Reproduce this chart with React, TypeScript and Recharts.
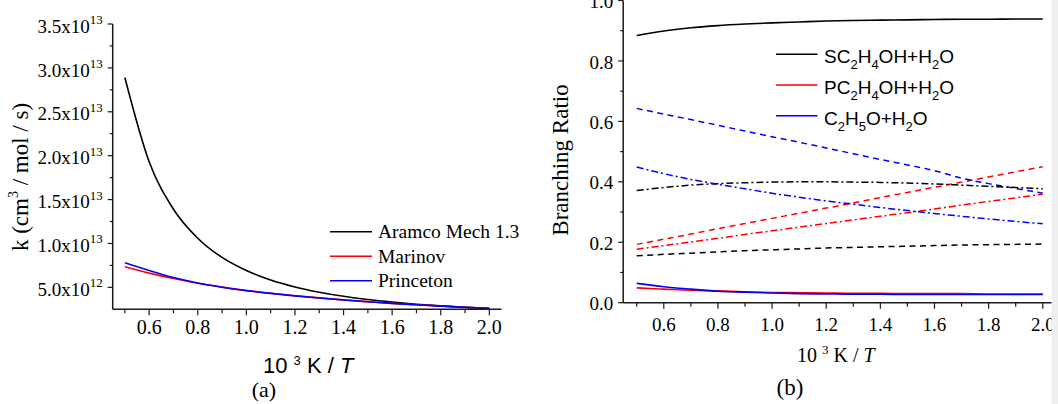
import React from 'react';
import { LineChart, Line, XAxis, YAxis } from 'recharts';

// 10^3 K / T
const invT = [0.5, 0.6, 0.7, 0.8, 0.9, 1.0, 1.1, 1.2, 1.3, 1.4, 1.5, 1.6, 1.7, 1.8, 1.9, 2.0];

// panel (a): k (cm3 / mol / s)
const aramco = [28.9e12, 19.3e12, 13.9e12, 10.6e12, 8.41e12, 6.92e12, 5.84e12, 5.05e12, 4.45e12, 3.98e12, 3.61e12, 3.32e12, 3.08e12, 2.89e12, 2.73e12, 2.6e12];
const marinov = [7.35e12, 6.62e12, 6.0e12, 5.47e12, 5.03e12, 4.65e12, 4.33e12, 4.05e12, 3.8e12, 3.57e12, 3.37e12, 3.18e12, 3.02e12, 2.87e12, 2.73e12, 2.6e12];
const princeton = [7.8e12, 6.92e12, 6.12e12, 5.5e12, 5.02e12, 4.63e12, 4.31e12, 4.03e12, 3.78e12, 3.56e12, 3.36e12, 3.17e12, 3.01e12, 2.86e12, 2.72e12, 2.59e12];

// panel (b): branching ratios (solid / dashed / dash-dot)
const scSolid = [0.884, 0.899, 0.910, 0.917, 0.922, 0.926, 0.929, 0.932, 0.934, 0.935, 0.936, 0.937, 0.938, 0.938, 0.939, 0.939];
const pcSolid = [0.049, 0.045, 0.041, 0.039, 0.036, 0.034, 0.033, 0.032, 0.031, 0.031, 0.030, 0.030, 0.030, 0.029, 0.029, 0.029];
const c2h5oSolid = [0.064, 0.053, 0.045, 0.038, 0.035, 0.032, 0.030, 0.029, 0.028, 0.028, 0.027, 0.027, 0.027, 0.027, 0.027, 0.027];
const scDash = [0.155, 0.160, 0.164, 0.168, 0.172, 0.175, 0.178, 0.181, 0.183, 0.185, 0.187, 0.189, 0.191, 0.192, 0.193, 0.194];
const pcDash = [0.193, 0.210, 0.227, 0.245, 0.262, 0.279, 0.296, 0.313, 0.330, 0.348, 0.365, 0.382, 0.399, 0.416, 0.433, 0.450];
const c2h5oDash = [0.643, 0.624, 0.606, 0.587, 0.568, 0.549, 0.531, 0.512, 0.493, 0.474, 0.456, 0.437, 0.412, 0.394, 0.378, 0.362];
const scDashDot = [0.371, 0.381, 0.389, 0.394, 0.397, 0.399, 0.400, 0.400, 0.399, 0.398, 0.396, 0.393, 0.389, 0.385, 0.381, 0.377];
const pcDashDot = [0.177, 0.189, 0.201, 0.213, 0.226, 0.238, 0.250, 0.262, 0.274, 0.286, 0.298, 0.310, 0.323, 0.335, 0.347, 0.359];
const c2h5oDashDot = [0.449, 0.427, 0.408, 0.392, 0.377, 0.362, 0.349, 0.337, 0.326, 0.315, 0.305, 0.295, 0.286, 0.277, 0.269, 0.261];

// ticks
const xMajor = [0.6, 0.8, 1.0, 1.2, 1.4, 1.6, 1.8, 2.0];
const xAll = [0.5, 0.6, 0.7, 0.8, 0.9, 1.0, 1.1, 1.2, 1.3, 1.4, 1.5, 1.6, 1.7, 1.8, 1.9, 2.0];
const kMajor = [5e12, 1e13, 1.5e13, 2e13, 2.5e13, 3e13, 3.5e13];
const kAll = [5e12, 7.5e12, 1e13, 1.25e13, 1.5e13, 1.75e13, 2e13, 2.25e13, 2.5e13, 2.75e13, 3e13, 3.25e13, 3.5e13];
const brMajor = [0, 0.2, 0.4, 0.6, 0.8, 1.0];
const brAll = [0, 0.1, 0.2, 0.3, 0.4, 0.5, 0.6, 0.7, 0.8, 0.9, 1.0];

const legendA = ['Aramco Mech 1.3', 'Marinov', 'Princeton'];
const colors = ['#000000', '#ff0000', '#0000ff'];

const serif = '"Liberation Serif", "Times New Roman", serif';
const sans = '"Liberation Sans", Arial, sans-serif';
const axisColor = '#1a1a1a';

const rowsA = invT.map((x, i) => ({ x, aramco: aramco[i], marinov: marinov[i], princeton: princeton[i] }));
const rowsB = invT.map((x, i) => ({
  x,
  scSolid: scSolid[i], pcSolid: pcSolid[i], c2h5oSolid: c2h5oSolid[i],
  scDash: scDash[i], pcDash: pcDash[i], c2h5oDash: c2h5oDash[i],
  scDashDot: scDashDot[i], pcDashDot: pcDashDot[i], c2h5oDashDot: c2h5oDashDot[i],
}));

const isIn = (v: number, list: number[]) => list.some((m) => Math.abs(m - v) < 1e-6 * Math.max(1, Math.abs(m)));

const makeXTick = (fontSize: number, labelDy: number) => (props: any) => {
  const { x, y, payload } = props;
  const major = isIn(payload.value, xMajor);
  return (
    <g>
      <line x1={x} x2={x} y1={y} y2={y + (major ? 6 : 4)} stroke={axisColor} strokeWidth={1.2} />
      {major && (
        <text x={x} y={y + labelDy} textAnchor="middle" fontFamily={serif} fontSize={fontSize} fill="#000">
          {payload.value.toFixed(1)}
        </text>
      )}
    </g>
  );
};

const YTickA = (props: any) => {
  const { x, y, payload } = props;
  const v = payload.value;
  const major = isIn(v, kMajor);
  const exp = v >= 1e13 ? 13 : 12;
  const mant = (v / Math.pow(10, exp)).toFixed(1);
  return (
    <g>
      <line x1={x - (major ? 5 : 3)} x2={x} y1={y} y2={y} stroke={axisColor} strokeWidth={1.2} />
      {major && (
        <text x={x - 10} y={y + 8.7} textAnchor="end" fontFamily={serif} fontSize={19} fill="#000">
          {mant}x10<tspan fontSize={13} dy={-8.7}>{exp}</tspan>
        </text>
      )}
    </g>
  );
};

const YTickB = (props: any) => {
  const { x, y, payload } = props;
  const major = isIn(payload.value, brMajor);
  return (
    <g>
      <line x1={x - (major ? 5 : 3)} x2={x} y1={y} y2={y} stroke={axisColor} strokeWidth={1.2} />
      {major && (
        <text x={x - 10} y={y + 7.6} textAnchor="end" fontFamily={serif} fontSize={19} fill="#000">
          {payload.value.toFixed(1)}
        </text>
      )}
    </g>
  );
};

const dash = '6 4.5';
const dashDot = '7 3 2 3';

export default function App() {
  return (
    <div style={{ position: 'absolute', left: 0, top: 0, width: 1058, height: 404, background: '#fff', overflow: 'hidden' }}>
      <div style={{ position: 'absolute', left: 0, top: 0 }}>
        <LineChart width={520} height={404} data={rowsA} margin={{ top: 24, right: 18.5, left: 52.7, bottom: 64.7 }}>
          <XAxis
            dataKey="x"
            type="number"
            domain={[0.45, 2.05]}
            ticks={xAll}
            interval={0}
            height={30}
            tickLine={false}
            tickSize={0}
            tickMargin={0}
            axisLine={{ stroke: axisColor, strokeWidth: 1.5 }}
            tick={makeXTick(20, 24.7)}
          />
          <YAxis
            type="number"
            domain={[2.5e12, 3.5e13]}
            allowDataOverflow
            ticks={kAll}
            interval={0}
            width={60}
            tickLine={false}
            tickSize={0}
            tickMargin={0}
            axisLine={{ stroke: axisColor, strokeWidth: 1.5 }}
            tick={YTickA}
          />
          <Line type="monotone" dataKey="aramco" stroke={colors[0]} strokeWidth={1.6} dot={false} isAnimationActive={false} />
          <Line type="monotone" dataKey="marinov" stroke={colors[1]} strokeWidth={1.6} dot={false} isAnimationActive={false} />
          <Line type="monotone" dataKey="princeton" stroke={colors[2]} strokeWidth={1.6} dot={false} isAnimationActive={false} />
        </LineChart>
      </div>

      <div style={{ position: 'absolute', left: 520, top: 0 }}>
        <LineChart width={538} height={404} data={rowsB} margin={{ top: 0.5, right: 1.7, left: 43.2, bottom: 71.3 }}>
          <XAxis
            dataKey="x"
            type="number"
            domain={[0.45, 2.05]}
            ticks={xAll}
            interval={0}
            height={30}
            tickLine={false}
            tickSize={0}
            tickMargin={0}
            axisLine={{ stroke: axisColor, strokeWidth: 1.5 }}
            tick={makeXTick(19, 28.3)}
          />
          <YAxis
            type="number"
            domain={[0, 1]}
            ticks={brAll}
            interval={0}
            width={60}
            tickLine={false}
            tickSize={0}
            tickMargin={0}
            axisLine={{ stroke: axisColor, strokeWidth: 1.5 }}
            tick={YTickB}
          />
          <Line type="monotone" dataKey="scSolid" stroke={colors[0]} strokeWidth={1.6} dot={false} isAnimationActive={false} />
          <Line type="monotone" dataKey="pcSolid" stroke={colors[1]} strokeWidth={1.6} dot={false} isAnimationActive={false} />
          <Line type="monotone" dataKey="c2h5oSolid" stroke={colors[2]} strokeWidth={1.6} dot={false} isAnimationActive={false} />
          <Line type="monotone" dataKey="scDash" stroke={colors[0]} strokeWidth={1.5} strokeDasharray={dash} dot={false} isAnimationActive={false} />
          <Line type="monotone" dataKey="pcDash" stroke={colors[1]} strokeWidth={1.5} strokeDasharray={dash} dot={false} isAnimationActive={false} />
          <Line type="monotone" dataKey="c2h5oDash" stroke={colors[2]} strokeWidth={1.5} strokeDasharray={dash} dot={false} isAnimationActive={false} />
          <Line type="monotone" dataKey="scDashDot" stroke={colors[0]} strokeWidth={1.5} strokeDasharray={dashDot} dot={false} isAnimationActive={false} />
          <Line type="monotone" dataKey="pcDashDot" stroke={colors[1]} strokeWidth={1.5} strokeDasharray={dashDot} dot={false} isAnimationActive={false} />
          <Line type="monotone" dataKey="c2h5oDashDot" stroke={colors[2]} strokeWidth={1.5} strokeDasharray={dashDot} dot={false} isAnimationActive={false} />
        </LineChart>
      </div>

      {/* titles, legends and panel tags */}
      <svg width={1058} height={404} style={{ position: 'absolute', left: 0, top: 0, pointerEvents: 'none' }}>
        <text x={28} y={177} textAnchor="middle" transform="rotate(-90 28 177)" fontFamily={serif} fontSize={23} fill="#000">
          k (cm<tspan fontSize={14} dy={-10}>3</tspan><tspan dy={10}> / mol / s)</tspan>
        </text>
        <text x={263} y={373} fontFamily={sans} fontSize={22} fill="#000">
          10 <tspan fontSize={13} dy={-8.3}>3</tspan><tspan dy={8.3}> K / </tspan><tspan fontStyle="italic">T</tspan>
        </text>
        <text x={264} y={397} textAnchor="middle" fontFamily={serif} fontSize={22} fill="#000">(a)</text>
        {legendA.map((name, i) => (
          <g key={name}>
            <line x1={330} x2={372} y1={231.7 + i * 24.5} y2={231.7 + i * 24.5} stroke={colors[i]} strokeWidth={1.6} />
            <text x={378} y={238.3 + i * 24.5} fontFamily={serif} fontSize={19.5} fill="#000">{name}</text>
          </g>
        ))}

        <text x={568} y={160} textAnchor="middle" transform="rotate(-90 568 160)" fontFamily={serif} fontSize={23} fill="#000">
          Branching Ratio
        </text>
        <text x={797} y={362} fontFamily={serif} fontSize={20} fill="#000">
          10 <tspan fontSize={13} dy={-7.6}>3</tspan><tspan dy={7.6}> K / </tspan><tspan fontStyle="italic">T</tspan>
        </text>
        <text x={790} y={395} textAnchor="middle" fontFamily={serif} fontSize={23} fill="#000">(b)</text>

        <line x1={776} x2={817.5} y1={54.3} y2={54.3} stroke={colors[0]} strokeWidth={1.6} />
        <text x={824} y={63.3} fontFamily={sans} fontSize={19} fill="#000">
          SC<tspan fontSize={13} dy={6}>2</tspan><tspan dy={-6}>H</tspan><tspan fontSize={13} dy={6}>4</tspan><tspan dy={-6}>OH+H</tspan><tspan fontSize={13} dy={6}>2</tspan><tspan dy={-6}>O</tspan>
        </text>
        <line x1={776} x2={817.5} y1={85} y2={85} stroke={colors[1]} strokeWidth={1.6} />
        <text x={824} y={94} fontFamily={sans} fontSize={19} fill="#000">
          PC<tspan fontSize={13} dy={6}>2</tspan><tspan dy={-6}>H</tspan><tspan fontSize={13} dy={6}>4</tspan><tspan dy={-6}>OH+H</tspan><tspan fontSize={13} dy={6}>2</tspan><tspan dy={-6}>O</tspan>
        </text>
        <line x1={776} x2={817.5} y1={115.7} y2={115.7} stroke={colors[2]} strokeWidth={1.6} />
        <text x={824} y={124.7} fontFamily={sans} fontSize={19} fill="#000">
          C<tspan fontSize={13} dy={6}>2</tspan><tspan dy={-6}>H</tspan><tspan fontSize={13} dy={6}>5</tspan><tspan dy={-6}>O+H</tspan><tspan fontSize={13} dy={6}>2</tspan><tspan dy={-6}>O</tspan>
        </text>

        <rect x={1051.5} y={0} width={6.5} height={404} fill="#efefef" />
      </svg>
    </div>
  );
}
